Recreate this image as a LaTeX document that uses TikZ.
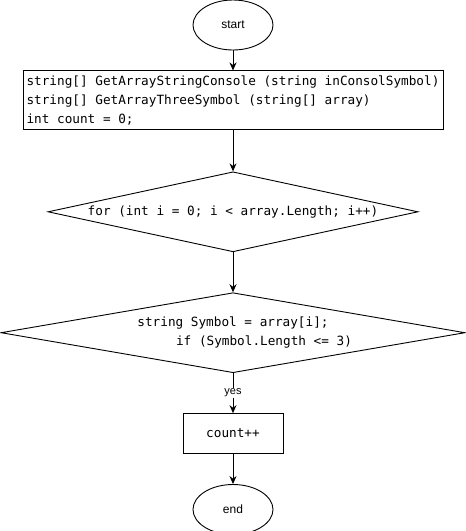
\documentclass[tikz,border=0pt]{standalone}
\usepackage{fontspec}
\setmainfont{Liberation Sans}
\setmonofont{DejaVu Sans Mono}
\usetikzlibrary{shapes.geometric,positioning,arrows.meta}
\tikzset{%
    terminal/.style={%
        ellipse,
        draw,
        minimum width=80pt,
        minimum height=50pt,
        inner sep=0pt,
        font=\fontsize{12}{14}\selectfont
    },
    process/.style={%
        rectangle,
        draw,
        inner sep=0pt,
        font=\ttfamily\fontsize{12.7}{19}\selectfont
    },
    decision/.style={%
        diamond,
        draw,
        inner sep=0pt,
        align=center,
        font=\ttfamily\fontsize{12.7}{19}\selectfont
    },
    flow/.style={%
        draw,
        -{Stealth[length=8pt,width=7pt]}
    }
}

\begin{document}
\begin{tikzpicture}[line width=0.9pt]
    \useasboundingbox (0pt,0pt) rectangle (466pt,-531pt);
    \node[terminal] (start) at (233pt,-25pt) {start};
    \node[process, minimum width=420pt, minimum height=59pt,
          align=left, below=20pt of start] (init)
        {string[] GetArrayStringConsole (string inConsolSymbol)\\
         string[] GetArrayThreeSymbol (string[] array)\\
         int count = 0;};
    \node[decision, minimum width=370pt, minimum height=80pt, shape aspect=4.625,
          below=41pt of init] (loop)
        {for (int i = 0; i < array.Length; i++)};
    \node[decision, minimum width=464pt, minimum height=80pt, shape aspect=5.8,
          below=40pt of loop] (check)
        {string Symbol = array[i];\\\hspace*{62pt}if (Symbol.Length <= 3)};
    \node[process, minimum width=100pt, minimum height=40pt,
          below=40pt of check] (count) {count++};
    \node[terminal, below=30pt of count] (end) {end};
    % connectors
    \draw[flow] (start) -- (init);
    \draw[flow] (init) -- (loop);
    \draw[flow] (loop) -- (check);
    \draw[flow] (check) -- node[fill=white, inner sep=1pt,
        font=\fontsize{11}{13}\selectfont] (yes) {yes} (count);
    \draw[flow] (count) -- (end);
\end{tikzpicture}
\end{document}
